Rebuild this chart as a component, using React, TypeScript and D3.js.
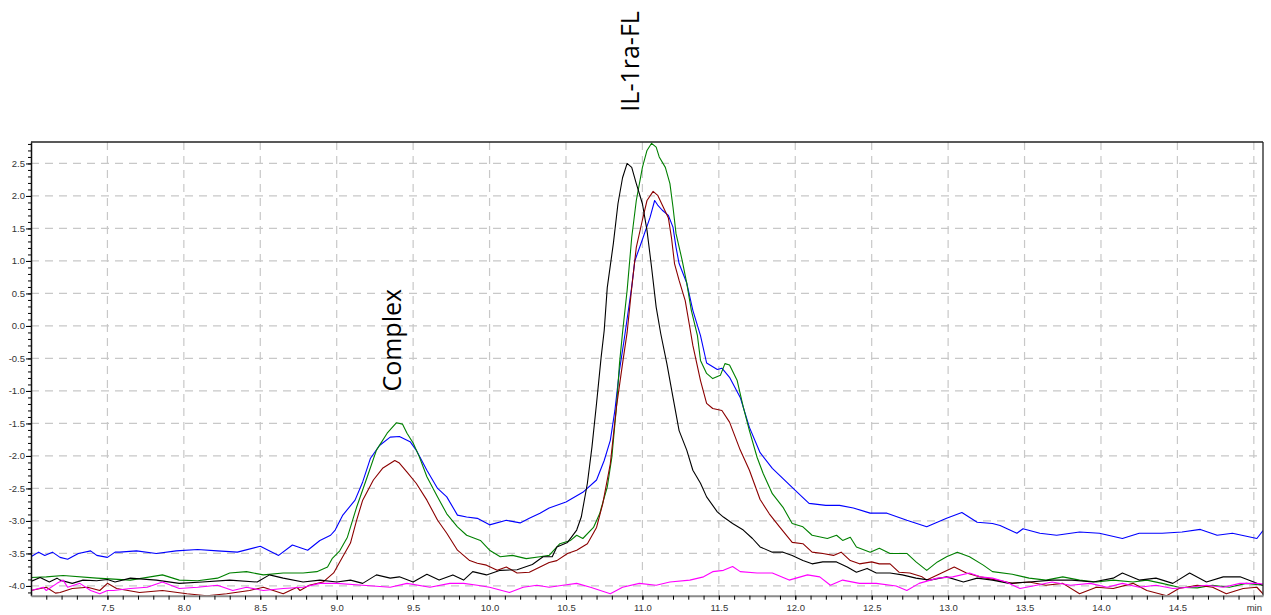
import { useEffect, useRef } from "react";
import * as d3 from "d3";

// retention time (min), signal
const blueTrace = [
  [7.00, -3.55], [7.05, -3.48], [7.09, -3.53], [7.14, -3.48], [7.19, -3.56], [7.24, -3.59], [7.27, -3.55],
  [7.31, -3.50], [7.39, -3.46], [7.43, -3.53], [7.50, -3.56], [7.55, -3.48], [7.58, -3.48], [7.69, -3.46],
  [7.82, -3.50], [7.95, -3.46], [8.09, -3.44], [8.22, -3.46], [8.35, -3.48], [8.50, -3.39], [8.62, -3.53],
  [8.71, -3.37], [8.81, -3.45], [8.89, -3.30], [8.96, -3.22], [8.99, -3.14], [9.04, -2.91], [9.12, -2.68],
  [9.17, -2.40], [9.22, -2.04], [9.28, -1.84], [9.35, -1.71], [9.41, -1.70], [9.48, -1.78], [9.52, -1.91],
  [9.59, -2.22], [9.66, -2.50], [9.72, -2.63], [9.79, -2.91], [9.85, -2.94], [9.92, -2.96], [10.00, -3.06],
  [10.11, -2.99], [10.20, -3.03], [10.26, -2.96], [10.33, -2.88], [10.39, -2.80], [10.50, -2.71], [10.61, -2.56],
  [10.70, -2.37], [10.75, -2.07], [10.79, -1.76], [10.82, -1.30], [10.85, -0.68], [10.88, -0.22], [10.93, 0.60],
  [10.95, 1.00], [11.00, 1.33], [11.05, 1.67], [11.08, 1.93], [11.10, 1.86], [11.13, 1.78], [11.17, 1.70],
  [11.20, 1.52], [11.22, 1.21], [11.24, 0.96], [11.29, 0.66], [11.33, 0.24], [11.38, -0.15], [11.42, -0.57],
  [11.49, -0.67], [11.52, -0.65], [11.57, -0.79], [11.64, -1.10], [11.70, -1.56], [11.77, -1.95], [11.85, -2.19],
  [11.92, -2.35], [12.00, -2.53], [12.09, -2.73], [12.20, -2.76], [12.29, -2.76], [12.38, -2.80], [12.49, -2.88],
  [12.60, -2.88], [12.73, -2.99], [12.86, -3.09], [12.99, -2.96], [13.09, -2.87], [13.19, -3.02], [13.29, -3.04],
  [13.34, -3.07], [13.45, -3.19], [13.49, -3.12], [13.60, -3.19], [13.71, -3.22], [13.86, -3.17], [13.99, -3.19],
  [14.14, -3.27], [14.25, -3.19], [14.40, -3.19], [14.53, -3.17], [14.65, -3.13], [14.76, -3.22], [14.86, -3.19],
  [15.02, -3.27], [15.06, -3.15],
];

const greenTrace = [
  [7.00, -3.87], [7.10, -3.86], [7.21, -3.84], [7.43, -3.88], [7.65, -3.91], [7.86, -3.83], [7.97, -3.91],
  [8.09, -3.92], [8.22, -3.88], [8.30, -3.80], [8.41, -3.78], [8.52, -3.83], [8.65, -3.80], [8.78, -3.80],
  [8.87, -3.78], [8.94, -3.71], [8.97, -3.58], [9.02, -3.46], [9.07, -3.25], [9.13, -2.79], [9.20, -2.32],
  [9.26, -1.91], [9.33, -1.65], [9.39, -1.49], [9.43, -1.51], [9.46, -1.65], [9.50, -1.80], [9.54, -2.01],
  [9.59, -2.32], [9.66, -2.63], [9.72, -2.89], [9.79, -3.09], [9.85, -3.22], [9.94, -3.30], [10.00, -3.45],
  [10.07, -3.55], [10.15, -3.53], [10.24, -3.58], [10.33, -3.55], [10.39, -3.53], [10.46, -3.35], [10.53, -3.30],
  [10.57, -3.22], [10.61, -3.27], [10.68, -3.10], [10.72, -2.89], [10.77, -2.48], [10.80, -2.02], [10.83, -1.25],
  [10.85, -0.58], [10.87, -0.10], [10.90, 0.55], [10.93, 1.36], [10.96, 1.93], [11.00, 2.44], [11.03, 2.70],
  [11.06, 2.81], [11.09, 2.75], [11.11, 2.60], [11.15, 2.44], [11.18, 2.19], [11.20, 1.83], [11.22, 1.42],
  [11.26, 1.01], [11.29, 0.66], [11.32, 0.24], [11.36, -0.15], [11.38, -0.53], [11.42, -0.73], [11.46, -0.81],
  [11.51, -0.76], [11.54, -0.58], [11.57, -0.60], [11.62, -0.84], [11.66, -1.25], [11.70, -1.61], [11.75, -2.02],
  [11.79, -2.27], [11.85, -2.58], [11.92, -2.79], [11.98, -3.04], [12.05, -3.09], [12.11, -3.22], [12.21, -3.27],
  [12.27, -3.22], [12.31, -3.30], [12.36, -3.25], [12.40, -3.40], [12.49, -3.48], [12.55, -3.42], [12.62, -3.50],
  [12.73, -3.50], [12.79, -3.63], [12.86, -3.76], [12.93, -3.63], [12.99, -3.55], [13.06, -3.48], [13.14, -3.55],
  [13.23, -3.68], [13.29, -3.78], [13.42, -3.82], [13.53, -3.88], [13.64, -3.91], [13.75, -3.86], [13.86, -3.91],
  [13.97, -3.94], [14.08, -3.91], [14.21, -3.94], [14.30, -3.91], [14.40, -3.96], [14.51, -4.02], [14.63, -4.03],
  [14.73, -3.99], [14.84, -4.02], [14.95, -3.96], [15.06, -3.99],
];

const redTrace = [
  [7.00, -4.07], [7.10, -4.02], [7.16, -4.11], [7.19, -4.10], [7.27, -4.04], [7.37, -4.02], [7.45, -4.07],
  [7.50, -3.96], [7.56, -4.04], [7.71, -4.10], [7.86, -4.07], [8.02, -4.12], [8.15, -4.15], [8.28, -4.12],
  [8.43, -4.07], [8.52, -4.02], [8.65, -4.12], [8.74, -4.02], [8.76, -4.07], [8.82, -3.99], [8.91, -3.94],
  [8.98, -3.80], [9.02, -3.63], [9.09, -3.34], [9.13, -2.99], [9.17, -2.68], [9.24, -2.37], [9.30, -2.19],
  [9.38, -2.07], [9.41, -2.11], [9.46, -2.25], [9.52, -2.42], [9.59, -2.68], [9.66, -2.99], [9.72, -3.19],
  [9.79, -3.45], [9.87, -3.61], [9.92, -3.65], [9.98, -3.68], [10.05, -3.76], [10.11, -3.71], [10.18, -3.80],
  [10.26, -3.79], [10.33, -3.71], [10.39, -3.64], [10.44, -3.61], [10.51, -3.50], [10.57, -3.45], [10.64, -3.35],
  [10.70, -3.10], [10.74, -2.74], [10.79, -2.12], [10.83, -1.25], [10.87, -0.58], [10.90, -0.10], [10.93, 0.59],
  [10.96, 1.21], [11.00, 1.63], [11.03, 1.93], [11.07, 2.07], [11.10, 2.01], [11.13, 1.86], [11.17, 1.66],
  [11.19, 1.36], [11.21, 0.96], [11.24, 0.70], [11.28, 0.39], [11.31, -0.02], [11.33, -0.30], [11.38, -0.84],
  [11.42, -1.19], [11.46, -1.27], [11.52, -1.30], [11.57, -1.48], [11.64, -1.91], [11.70, -2.22], [11.77, -2.67],
  [11.83, -2.89], [11.90, -3.10], [11.98, -3.33], [12.05, -3.35], [12.11, -3.48], [12.18, -3.50], [12.25, -3.53],
  [12.30, -3.48], [12.36, -3.61], [12.42, -3.66], [12.50, -3.63], [12.55, -3.66], [12.62, -3.66], [12.68, -3.79],
  [12.75, -3.80], [12.83, -3.86], [12.86, -3.91], [12.94, -3.82], [13.04, -3.71], [13.12, -3.80], [13.21, -3.86],
  [13.32, -3.91], [13.42, -3.96], [13.53, -3.94], [13.64, -3.99], [13.75, -3.96], [13.86, -4.12], [13.97, -4.02],
  [14.08, -4.04], [14.21, -3.96], [14.30, -4.07], [14.43, -4.15], [14.51, -4.04], [14.63, -3.99], [14.73, -4.02],
  [14.82, -4.12], [14.93, -4.04], [15.02, -4.02], [15.06, -4.12],
];

const blackTrace = [
  [7.00, -3.93], [7.06, -3.87], [7.12, -3.94], [7.17, -3.88], [7.19, -3.91], [7.27, -3.96], [7.34, -3.91],
  [7.43, -3.92], [7.50, -3.90], [7.55, -3.94], [7.65, -3.88], [7.82, -3.91], [7.97, -3.96], [8.12, -3.94],
  [8.30, -3.91], [8.48, -3.94], [8.56, -3.83], [8.65, -3.88], [8.78, -3.94], [8.89, -3.91], [9.00, -3.94],
  [9.09, -3.91], [9.17, -3.96], [9.26, -3.83], [9.35, -3.88], [9.41, -3.86], [9.50, -3.94], [9.59, -3.82],
  [9.67, -3.91], [9.76, -3.83], [9.83, -3.91], [9.89, -3.78], [9.98, -3.83], [10.07, -3.76], [10.18, -3.75],
  [10.28, -3.67], [10.35, -3.55], [10.41, -3.55], [10.44, -3.40], [10.51, -3.33], [10.57, -3.14], [10.60, -2.94],
  [10.64, -2.42], [10.67, -1.86], [10.70, -1.19], [10.73, -0.48], [10.75, -0.07], [10.77, 0.59], [10.81, 1.27],
  [10.84, 1.88], [10.87, 2.28], [10.90, 2.50], [10.93, 2.44], [10.96, 2.19], [11.00, 1.88], [11.03, 1.47],
  [11.06, 0.90], [11.09, 0.29], [11.12, -0.12], [11.16, -0.58], [11.20, -1.10], [11.24, -1.61], [11.29, -1.91],
  [11.33, -2.22], [11.38, -2.42], [11.42, -2.63], [11.49, -2.86], [11.53, -2.94], [11.59, -3.04], [11.66, -3.14],
  [11.72, -3.27], [11.77, -3.40], [11.85, -3.48], [11.92, -3.48], [11.98, -3.53], [12.05, -3.61], [12.11, -3.66],
  [12.18, -3.63], [12.27, -3.63], [12.34, -3.71], [12.40, -3.79], [12.47, -3.73], [12.53, -3.80], [12.62, -3.80],
  [12.70, -3.83], [12.79, -3.88], [12.88, -3.91], [12.99, -3.86], [13.10, -3.94], [13.19, -3.88], [13.29, -3.91],
  [13.40, -3.96], [13.53, -3.94], [13.68, -3.91], [13.81, -3.91], [13.95, -3.94], [14.08, -3.88], [14.14, -3.80],
  [14.25, -3.91], [14.36, -3.88], [14.47, -3.96], [14.58, -3.80], [14.69, -3.94], [14.80, -3.86], [14.91, -3.86],
  [15.02, -3.96], [15.06, -3.99],
];

const magentaTrace = [
  [7.00, -4.07], [7.08, -4.02], [7.10, -4.07], [7.17, -3.96], [7.21, -3.91], [7.24, -4.02], [7.32, -3.96],
  [7.39, -4.07], [7.45, -4.12], [7.50, -4.07], [7.54, -4.07], [7.65, -4.04], [7.76, -4.02], [7.86, -3.94],
  [7.97, -4.04], [8.09, -4.02], [8.22, -3.99], [8.32, -4.07], [8.41, -4.02], [8.52, -4.07], [8.65, -4.04],
  [8.78, -4.02], [8.89, -3.96], [9.00, -3.96], [9.17, -3.99], [9.35, -4.02], [9.46, -3.96], [9.61, -4.02],
  [9.74, -3.96], [9.83, -3.96], [9.92, -3.99], [10.00, -4.02], [10.13, -4.10], [10.22, -4.02], [10.31, -3.99],
  [10.39, -4.02], [10.48, -3.99], [10.57, -3.96], [10.66, -4.02], [10.79, -4.12], [10.87, -4.02], [10.98, -3.96],
  [11.09, -3.99], [11.18, -3.94], [11.31, -3.91], [11.40, -3.86], [11.46, -3.78], [11.53, -3.76], [11.59, -3.70],
  [11.64, -3.78], [11.75, -3.80], [11.85, -3.80], [11.96, -3.91], [12.08, -3.83], [12.16, -3.86], [12.23, -3.99],
  [12.31, -3.91], [12.42, -3.96], [12.53, -3.96], [12.66, -4.00], [12.73, -4.07], [12.81, -3.96], [12.93, -3.88],
  [13.03, -3.86], [13.14, -3.80], [13.21, -3.86], [13.29, -3.88], [13.38, -3.94], [13.47, -4.04], [13.58, -3.99],
  [13.68, -3.94], [13.80, -3.99], [13.93, -3.96], [14.04, -4.02], [14.14, -3.96], [14.25, -4.02], [14.36, -3.99],
  [14.47, -4.04], [14.58, -4.02], [14.69, -3.99], [14.80, -4.02], [14.91, -3.96], [15.02, -3.96], [15.06, -3.97],
];

const yMajorTicks = [-4.0, -3.5, -3.0, -2.5, -2.0, -1.5, -1.0, -0.5, 0.0, 0.5, 1.0, 1.5, 2.0, 2.5];
const xMajorTicks = [7.5, 8.0, 8.5, 9.0, 9.5, 10.0, 10.5, 11.0, 11.5, 12.0, 12.5, 13.0, 13.5, 14.0, 14.5, 15.0];
const xTickLabels = ["7.5", "8.0", "8.5", "9.0", "9.5", "10.0", "10.5", "11.0", "11.5", "12.0", "12.5", "13.0", "13.5", "14.0", "14.5", "min"];

const peakLabels = [
  { text: "IL-1ra-FL", t: 10.98, v: 4.07 },
  { text: "Complex", t: 9.42, v: -0.22 },
];

const App = () => {
  const chartRef = useRef<SVGSVGElement | null>(null);

  useEffect(() => {
    const width = 1271;
    const height = 615;
    const margin = { top: 142, right: 8, bottom: 19.3, left: 31 };

    const svg = d3.select(chartRef.current);
    svg.selectAll("*").remove();

    const x = d3.scaleLinear().domain([7.0, 15.06]).range([margin.left, width - margin.right]);
    const y = d3.scaleLinear().domain([-4.15, 2.83]).range([height - margin.bottom, margin.top]);

    // grid
    const grid = svg.append("g")
      .attr("stroke", "#c8c8c8")
      .attr("stroke-width", 1.2)
      .attr("stroke-dasharray", "8,6");

    grid.selectAll(".vg")
      .data(xMajorTicks)
      .join("line")
      .attr("x1", d => x(d))
      .attr("x2", d => x(d))
      .attr("y1", margin.top)
      .attr("y2", height - margin.bottom);

    grid.selectAll(".hg")
      .data(yMajorTicks)
      .join("line")
      .attr("x1", margin.left)
      .attr("x2", width - margin.right)
      .attr("y1", d => y(d))
      .attr("y2", d => y(d));

    // traces
    svg.append("clipPath")
      .attr("id", "plot-clip")
      .append("rect")
      .attr("x", margin.left)
      .attr("y", margin.top)
      .attr("width", width - margin.left - margin.right)
      .attr("height", height - margin.top - margin.bottom);

    const line = d3.line<number[]>()
      .x(d => x(d[0]))
      .y(d => y(d[1]));

    const traces = [
      { data: blueTrace, color: "#0000ff" },
      { data: greenTrace, color: "#008000" },
      { data: redTrace, color: "#8b0000" },
      { data: blackTrace, color: "#000000" },
      { data: magentaTrace, color: "#ff00ff" },
    ];

    svg.append("g")
      .attr("clip-path", "url(#plot-clip)")
      .selectAll("path")
      .data(traces)
      .join("path")
      .attr("d", d => line(d.data))
      .attr("fill", "none")
      .attr("stroke", d => d.color)
      .attr("stroke-width", 1.1)
      .attr("stroke-linejoin", "round");

    // frame
    svg.append("line")
      .attr("x1", margin.left).attr("x2", width - margin.right)
      .attr("y1", margin.top).attr("y2", margin.top)
      .attr("stroke", "#222").attr("stroke-width", 1.3);
    svg.append("line")
      .attr("x1", width - margin.right).attr("x2", width - margin.right)
      .attr("y1", margin.top).attr("y2", height - margin.bottom)
      .attr("stroke", "#222").attr("stroke-width", 1.3);

    // y axis
    const yMinor = d3.range(-41, 29).map(i => i / 10);
    svg.append("g")
      .attr("transform", `translate(${margin.left},0)`)
      .call(d3.axisLeft(y).tickValues(yMinor).tickSize(3).tickSizeOuter(0).tickFormat(() => ""))
      .call(g => g.select(".domain").attr("stroke", "#111").attr("stroke-width", 1.5));

    svg.append("g")
      .attr("transform", `translate(${margin.left},0)`)
      .call(d3.axisLeft(y).tickValues(yMajorTicks).tickSize(5).tickSizeOuter(0).tickPadding(1)
        .tickFormat(d => (+d).toFixed(1)))
      .call(g => g.select(".domain").remove())
      .call(g => g.selectAll("text")
        .style("font-family", "Liberation Sans, Arial, sans-serif")
        .style("font-size", "9.5px")
        .attr("fill", "#333"));

    // x axis
    const xMinor = d3.range(71, 151).map(i => i / 10);
    svg.append("g")
      .attr("transform", `translate(0,${height - margin.bottom})`)
      .call(d3.axisBottom(x).tickValues(xMinor).tickSize(4).tickSizeOuter(0).tickFormat(() => ""))
      .call(g => g.select(".domain").attr("stroke", "#8a8a8a").attr("stroke-width", 2));

    svg.append("g")
      .attr("transform", `translate(0,${height - margin.bottom})`)
      .call(d3.axisBottom(x).tickValues(xMajorTicks).tickSize(4).tickSizeOuter(0).tickPadding(5)
        .tickFormat((d, i) => xTickLabels[i]))
      .call(g => g.select(".domain").remove())
      .call(g => g.selectAll("text")
        .style("font-family", "Liberation Sans, Arial, sans-serif")
        .style("font-size", "9.5px")
        .attr("fill", "#333"));

    // peak annotations
    svg.selectAll(".peak-label")
      .data(peakLabels)
      .join("text")
      .attr("class", "peak-label")
      .attr("transform", d => `translate(${x(d.t)},${y(d.v)}) rotate(-90)`)
      .attr("text-anchor", "middle")
      .style("font-family", "Open Sans, sans-serif")
      .style("font-size", "25px")
      .attr("fill", "#000")
      .text(d => d.text);

    return () => {
      d3.select(chartRef.current).selectAll("*").remove();
    };
  }, []);

  return (
    <svg
      ref={chartRef}
      width={1271}
      height={615}
      style={{ position: "absolute", left: 0, top: 0, background: "#fff" }}
    ></svg>
  );
};

export default App;
